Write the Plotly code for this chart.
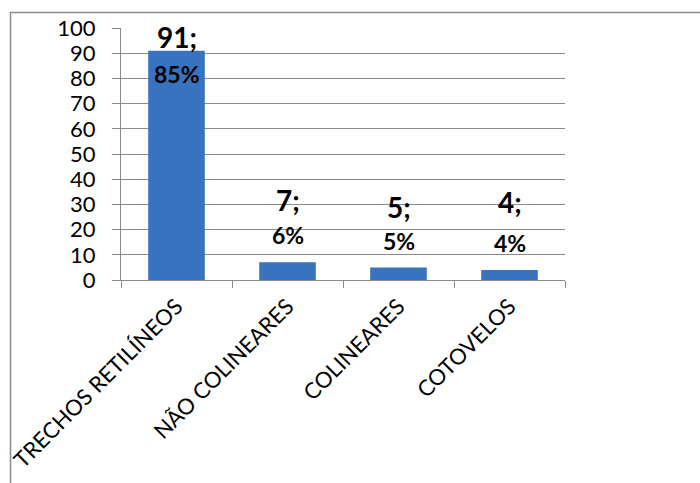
import plotly.graph_objects as go

categories = ["TRECHOS RETILÍNEOS", "NÃO COLINEARES", "COLINEARES", "COTOVELOS"]
counts = [91, 7, 5, 4]
percents = ["85%", "6%", "5%", "4%"]
y_ticks = [0, 10, 20, 30, 40, 50, 60, 70, 80, 90, 100]

# label pixel offsets relative to bar top (style only)
shift_line1 = [14, 62, 60, 68]
shift_line2 = [-23, 27, 26, 27]

FONT = "Lato"
GRID = "#8a8a8a"

fig = go.Figure()
fig.add_trace(go.Bar(
    x=categories, y=counts,
    marker=dict(color="#3873c0", line=dict(width=0)),
    hoverinfo="x+y",
))

for c, v, p, s1, s2 in zip(categories, counts, percents, shift_line1, shift_line2):
    fig.add_annotation(x=c, y=v, xref="x", yref="y", text=f"<b>{v};</b>",
                       showarrow=False, yshift=s1,
                       font=dict(family=FONT, size=28, color="#000"))
    fig.add_annotation(x=c, y=v, xref="x", yref="y", text=f"<b>{p}</b>",
                       showarrow=False, yshift=s2,
                       font=dict(family=FONT, size=23, color="#000"))

# outer border (extends past the right and bottom edges)
fig.add_shape(type="rect", xref="paper", yref="paper",
              x0=(10.5 - 121) / 444, x1=(720 - 121) / 444,
              y0=(280 - 500) / 252, y1=(280 - 12.5) / 252,
              line=dict(color=GRID, width=1.5), fillcolor="rgba(0,0,0,0)", layer="below")

fig.update_layout(
    width=700, height=483,
    margin=dict(l=121, r=135, t=28, b=203, autoexpand=False),
    paper_bgcolor="white", plot_bgcolor="white",
    bargap=0.49, showlegend=False,
    font=dict(family=FONT, color="#000"),
)
fig.update_yaxes(
    range=[0, 100], tickvals=y_ticks, ticktext=[str(t) for t in y_ticks],
    showgrid=True, gridcolor=GRID, gridwidth=1,
    showline=True, linecolor=GRID, linewidth=1,
    ticks="outside", ticklen=8, tickcolor=GRID,
    tickfont=dict(family=FONT, size=22, color="#000"),
    ticklabelstandoff=12, automargin=False,
    zeroline=False, fixedrange=True,
)
fig.update_xaxes(
    type="category", tickangle=-45, tickson="boundaries",
    showgrid=False, showline=True, linecolor=GRID, linewidth=1,
    ticks="outside", ticklen=7, tickcolor=GRID,
    tickfont=dict(family=FONT, size=22, color="#000"),
    ticklabelstandoff=4, automargin=False,
    fixedrange=True,
)

fig.write_html("out.html")
